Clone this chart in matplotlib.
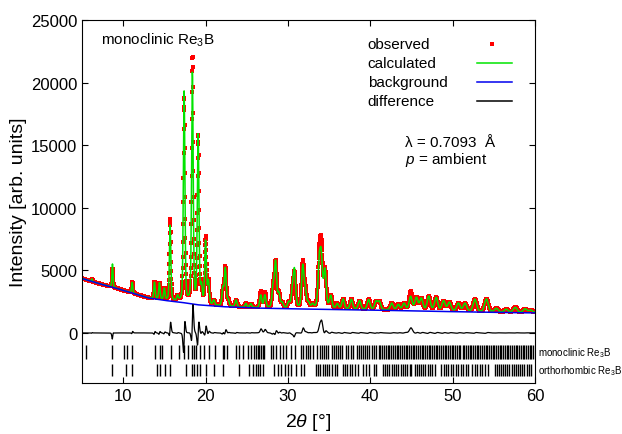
import numpy as np
import matplotlib.pyplot as plt

plt.rcParams['font.family'] = ['Liberation Sans', 'DejaVu Sans']
plt.rcParams['mathtext.fontset'] = 'custom'
plt.rcParams['mathtext.rm'] = 'Liberation Sans'
plt.rcParams['mathtext.it'] = 'Liberation Sans:italic'

# background (2theta, intensity)
bg_pos = [5, 7, 9, 11, 13, 15, 17, 19, 22, 26, 30, 35, 40, 45, 50, 55, 60]
bg_int = [4350, 3950, 3600, 3200, 2800, 2600, 2450, 2250, 2100, 1990, 1930, 1880, 1830, 1760, 1700, 1640, 1600]

# reflections: position, calculated and observed height above background
peak_pos = [6.2, 8.7, 11.1, 13.8, 14.4, 15.0, 15.7, 16.6, 17.4, 18.4, 19.1, 19.5, 20.0, 20.35,
            21.0, 22.1, 22.4, 22.75, 23.7, 24.9, 25.5, 26.7, 27.2, 28.2, 28.5, 28.9, 29.3, 30.1,
            30.55, 30.8, 31.8, 32.1, 32.5, 33.0, 33.8, 34.05, 34.5, 35.2, 36.0, 36.7, 37.7, 38.7,
            39.8, 40.7, 41.1, 42.6, 43.4, 44.1, 44.9, 45.6, 46.2, 47.1, 48.0, 48.9, 49.6, 50.7,
            51.5, 52.7, 54.1, 55.3, 56.5, 57.6, 58.8, 59.5]
calc_height = [200, 1850, 850, 1300, 1300, 900, 6000, 400, 16800, 18300, 13400, 1300, 5000, 1800,
               400, 1400, 3000, 500, 550, 300, 300, 1000, 1000, 1600, 3600, 1100, 400, 450,
               1300, 2900, 3300, 1300, 400, 300, 3300, 3700, 3000, 1000, 400, 800, 800, 700,
               800, 650, 650, 550, 450, 550, 1100, 1000, 950, 1150, 1050, 800, 700, 650,
               650, 1000, 1050, 300, 250, 400, 300, 200]
obs_height = [200, 1450, 900, 1300, 1300, 900, 6500, 400, 16300, 19600, 13300, 1300, 5300, 1800,
              400, 1400, 3100, 500, 550, 300, 300, 1300, 1250, 1600, 3600, 1100, 400, 450,
              1300, 2600, 3650, 1300, 400, 300, 3800, 4500, 3000, 1000, 400, 800, 800, 700,
              800, 650, 650, 550, 450, 550, 1500, 1000, 950, 1150, 1050, 800, 700, 650,
              650, 1000, 1050, 300, 250, 400, 300, 200]

# Bragg reflection markers
mono_ticks = [5.49, 8.66, 10.08, 10.49, 11.10, 13.86, 14.43, 14.76, 15.77, 16.79, 17.40, 17.93,
              18.41, 18.62, 18.82, 19.31, 19.84, 20.37, 21.18, 22.07, 22.28, 22.56, 23.70, 24.11,
              24.59, 25.12, 25.53, 25.93, 26.14, 26.34, 26.54, 26.75, 26.95, 27.15, 27.97, 28.25,
              28.58, 28.98, 29.39, 29.72, 30.41, 30.81, 31.63, 31.83, 32.15, 32.45, 32.7, 33.0,
              33.5, 33.9, 34.1, 34.35, 34.6, 34.85, 35.3, 35.6, 35.85, 36.1, 36.3, 36.55, 37.0,
              37.35, 37.6, 37.85, 38.4, 38.65, 38.9, 39.1, 39.35, 39.6, 39.85, 40.2, 40.45, 40.7,
              41.0, 41.2, 41.45, 41.65, 41.9, 42.1, 42.3, 42.55, 42.75, 42.95, 43.2, 43.4, 43.6,
              43.85, 44.05, 44.3, 44.5, 44.7, 44.95, 45.15, 45.35, 45.6, 45.8, 46.0, 46.25, 46.45,
              46.65, 46.9, 47.1, 47.3, 47.5, 47.75, 47.95, 48.15, 48.4, 48.6, 48.8, 49.05, 49.25,
              49.45, 49.7, 49.9, 50.1, 50.3, 50.55, 50.75, 50.95, 51.2, 51.4, 51.6, 51.85, 52.05,
              52.25, 52.5, 52.7, 52.9, 53.1, 53.35, 53.55, 53.75, 54.0, 54.2, 54.4, 54.6, 54.85,
              55.05, 55.25, 55.5, 55.7, 55.9, 56.15, 56.35, 56.55, 56.75, 57.0, 57.2, 57.4, 57.65,
              57.85, 58.05, 58.3, 58.5, 58.7, 58.9, 59.15, 59.35, 59.55, 59.8]
ortho_ticks = [8.7, 10.4, 11.06, 14.1, 14.5, 15.1, 15.7, 17.6, 18.4, 18.6, 19.0, 19.3, 20.0, 21.0,
               22.1, 24.1, 25.33, 25.73, 26.14, 26.4, 26.65, 26.95, 28.37, 28.78, 29.19, 29.59,
               30.0, 30.41, 31.02, 31.63, 32.0, 33.4, 33.65, 33.9, 34.2, 34.5, 34.75, 35.0, 35.4,
               35.7, 36.0, 36.7, 36.95, 37.2, 37.5, 37.8, 38.1, 38.5, 39.1, 39.5, 39.9, 40.4, 40.7,
               41.5, 41.75, 42.0, 42.3, 42.6, 42.85, 43.1, 43.4, 43.7, 43.95, 44.2, 44.5, 44.8,
               45.0, 45.4, 45.65, 45.9, 46.2, 46.45, 46.7, 47.0, 47.3, 47.55, 47.8, 48.6, 48.9,
               49.2, 49.4, 49.8, 50.1, 50.35, 50.6, 51.0, 51.3, 51.6, 51.9, 52.3, 52.7, 53.0,
               53.3, 53.6, 53.9, 54.3, 55.1, 55.35, 55.6, 55.85, 56.1, 56.4, 56.65, 56.9, 57.15,
               57.4, 57.7, 57.95, 58.2, 58.45, 58.7, 59.0, 59.25, 59.5]


def profile(x, pos, heights, shift=0.0):
    y = np.zeros_like(x)
    for p, h in zip(pos, heights):
        fwhm = 0.08 + 0.008 * p
        d = (x - p - shift) / fwhm
        y += h * (0.65 * np.exp(-4 * np.log(2) * d ** 2) + 0.35 / (1 + 4 * d ** 2))
    return y


tt = np.linspace(5, 60, 2751)
bg = np.interp(tt, bg_pos, bg_int)
calc = bg + profile(tt, peak_pos, calc_height)
obs = bg + profile(tt, peak_pos, obs_height, shift=0.012)
diff = obs - calc

fig = plt.figure(figsize=(6.22, 4.35), dpi=100)
ax = fig.add_axes([82 / 622, 1 - 384 / 435, 453 / 622, 363 / 435])

ax.plot(tt, obs, 's', color='red', ms=2.6, mew=0)
ax.plot(tt, calc, color='#00e400', lw=1.1)
ax.plot(tt, bg, color='#0000ee', lw=1.1)
ax.plot(tt, diff, color='black', lw=0.9)

ax.vlines(mono_ticks, -2100, -1000, color='black', lw=1.0)
ax.vlines(ortho_ticks, -3450, -2500, color='black', lw=1.0)
ax.text(60.35, -1500, 'monoclinic Re$_3$B', fontsize=7, va='center', clip_on=False)
ax.text(60.35, -2960, 'orthorhombic Re$_3$B', fontsize=7, va='center', clip_on=False)

ax.set_xlim(5, 60)
ax.set_ylim(-4000, 25000)
ax.set_xticks([10, 20, 30, 40, 50, 60])
ax.set_yticks([0, 5000, 10000, 15000, 20000, 25000])
ax.tick_params(direction='in', length=4, top=True, right=True, labelsize=12)
ax.set_xlabel(r'2$\theta$ [°]', fontsize=14, labelpad=6)
ax.set_ylabel('Intensity [arb. units]', fontsize=14, labelpad=3)

ax.text(0.042, 0.948, 'monoclinic Re$_3$B', transform=ax.transAxes, fontsize=11, va='center')
ax.text(0.713, 0.664, 'λ = 0.7093  Å', transform=ax.transAxes, fontsize=11, va='center')
ax.text(0.713, 0.617, '$p$ = ambient', transform=ax.transAxes, fontsize=11, va='center')

# legend drawn by hand: labels left aligned, keys on the right
leg_labels = ['observed', 'calculated', 'background', 'difference']
leg_colors = ['red', '#00e400', '#0000ee', 'black']
leg_y = [0.934, 0.882, 0.829, 0.777]
for lab, col, yy in zip(leg_labels, leg_colors, leg_y):
    ax.text(0.631, yy, lab, transform=ax.transAxes, fontsize=11, va='center')
    if lab == 'observed':
        ax.plot([0.905], [yy], 's', color=col, ms=2.6, mew=0, transform=ax.transAxes)
    else:
        ax.plot([0.872, 0.949], [yy, yy], color=col, lw=1.1, transform=ax.transAxes)

fig.savefig('out.png', dpi=100)
